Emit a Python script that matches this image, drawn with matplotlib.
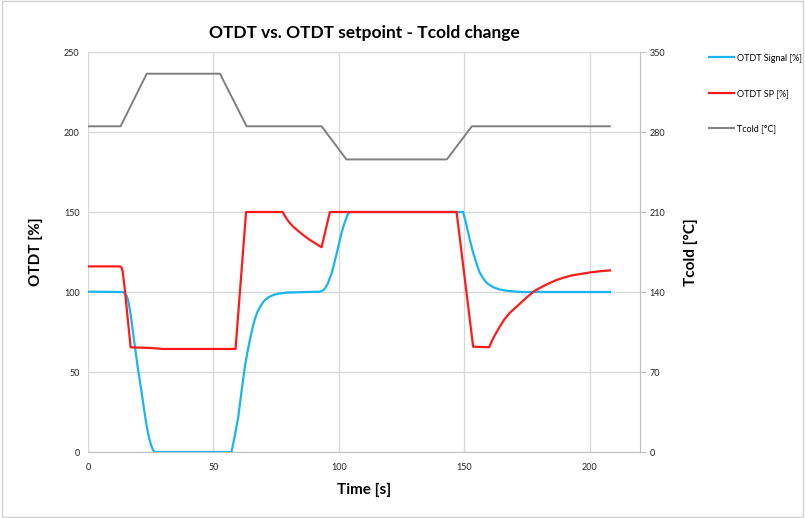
import matplotlib
matplotlib.use("Agg")
import matplotlib.pyplot as plt
from matplotlib.patches import Rectangle

plt.rcParams['font.family'] = ['Lato', 'DejaVu Sans']

# ---- data ----
sig_t = [0, 13.7, 14.5, 15.3, 16, 17, 18, 18.7, 20, 21.4, 22.5, 23.4, 24.3, 25.2, 26, 26.7,
         57.2, 58.5, 59.9, 61.2, 62.5, 63.5, 64.5, 65.5, 66.5, 67.5, 68.5, 69.5, 70.5, 72, 74,
         76, 79, 85, 92.4, 93.5, 94.4, 95.5, 97.1, 98, 99.1, 100, 101, 102, 103, 103.7, 104.5,
         149.5, 150.5, 151.3, 152.2, 153.5, 154.8, 156, 157.5, 159, 161.5, 164, 166.8, 170,
         173.3, 208]
sig_v = [100.2, 100, 99.5, 98, 95, 86, 74, 66, 51, 37, 25, 16, 9, 4, 1, 0,
         0, 10, 22, 38, 53, 62, 70, 77, 83, 87.5, 90.5, 93, 95, 96.8, 98.2,
         99, 99.6, 99.9, 100.2, 100.8, 102, 105, 111.7, 117, 124, 130, 136.7, 142, 146.5, 149, 150,
         150, 144, 138.5, 132.5, 124.5, 118, 112.5, 108.5, 105.5, 103, 101.6, 100.8, 100.3,
         100, 100]

sp_t = [0, 12.7, 13.3, 13.8, 14.5, 17, 25.4, 30, 58.8, 63, 77.6, 78.5, 79.5, 80.5, 82, 83.5,
        85.8, 88, 90, 92, 93.1, 96.4, 146.9, 153.5, 159.9, 161, 162.5, 164.1, 166, 168, 170.8,
        173, 175.5, 178.1, 181, 184, 186.7, 190, 193, 196, 200, 204, 208]
sp_v = [116, 116, 115.5, 113, 104, 65.4, 65, 64.4, 64.4, 150, 150, 147.5, 145, 143, 140.5, 138.5,
        135.6, 133, 131, 129, 128, 150, 150, 65.8, 65.5, 69.5, 74, 78.3, 83, 86.8, 90.8,
        94, 97.5, 100.8, 103.3, 105.6, 107.5, 109.2, 110.4, 111.2, 112.2, 113, 113.5]

tc_t = [0, 13, 23.4, 52.6, 63.2, 93.1, 103, 143, 153, 208]
tc_v = [285, 285, 331, 331, 285, 285, 256, 256, 285, 285]

x_ticks = [0, 50, 100, 150, 200]
left_ticks = [0, 50, 100, 150, 200, 250]
right_ticks = [0, 70, 140, 210, 280, 350]

# ---- figure ----
fig = plt.figure(figsize=(8.05, 5.18), dpi=100)
ax = fig.add_axes([88/805, 1-452/518, (640-88)/805, 400/518])
ax2 = ax.twinx()

grid_c = '#d9d9d9'
ax.set_xlim(0, 220)
ax.set_ylim(0, 250)
ax2.set_ylim(0, 350)
ax.set_xticks(x_ticks)
ax.set_yticks(left_ticks)
ax2.set_yticks(right_ticks)
ax.grid(True, color=grid_c, linewidth=1.0)
ax.set_axisbelow(True)

for a in (ax, ax2):
    for s in a.spines.values():
        s.set_visible(False)
ax.spines['bottom'].set_visible(True)
ax.spines['bottom'].set_color('#bfbfbf')
ax2.spines['right'].set_visible(True)
ax2.spines['right'].set_color('#bfbfbf')

ax.tick_params(axis='both', length=0, labelsize=6.5, colors='#222222', pad=8)
ax.tick_params(axis='y', pad=6)
ax2.tick_params(axis='y', length=4, color='#bfbfbf', labelsize=6.5, labelcolor='#222222', pad=3)

l1, = ax.plot(sig_t, sig_v, color='#19b5ee', linewidth=1.6, label='OTDT Signal [%]')
l2, = ax.plot(sp_t, sp_v, color='#ff1a1a', linewidth=1.6, label='OTDT SP [%]')
l3, = ax2.plot(tc_t, tc_v, color='#7f7f7f', linewidth=1.4, label='Tcold [°C]')

ax.set_xlabel('Time [s]', fontsize=11, fontweight='bold', labelpad=8)
ax.set_ylabel('OTDT [%]', fontsize=11, fontweight='bold', labelpad=15)
ax2.set_ylabel('Tcold [°C]', fontsize=11, fontweight='bold', labelpad=13)
fig.text(364/805, 1-33/518, 'OTDT vs. OTDT setpoint - Tcold change', ha='center', va='center',
         fontsize=12.5, fontweight='bold')

fig.legend(handles=[l1, l2, l3], loc='upper left', bbox_to_anchor=(705/805, 1-50/518),
           frameon=False, fontsize=6.5, labelspacing=2.9, handlelength=2.8, handletextpad=0.3,
           borderaxespad=0)

fig.patches.append(Rectangle((0.002, 0.002), 0.996, 0.996, transform=fig.transFigure,
                             fill=False, edgecolor='#d0d0d0', linewidth=1))

fig.savefig('out.png', dpi=100)
